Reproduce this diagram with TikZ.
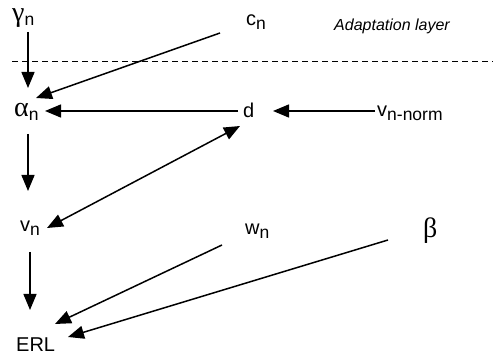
\documentclass[tikz,border=0pt]{standalone}
\usepackage{fontspec}
\setmainfont{Liberation Sans}
\newfontfamily\grkfont{Liberation Serif}
\usetikzlibrary{arrows.meta}
\newcommand\mysub[1]{\raisebox{-4pt}{\fontsize{17.5}{19}\selectfont #1}}
\newcommand\mygrk[1]{{\grkfont\fontsize{28}{30}\selectfont #1}}
\tikzset{
  lbl/.style={anchor=base west, inner sep=0pt, font=\fontsize{20}{22}\selectfont},
  arr/.style={line width=1.5pt, -{Triangle[length=16pt,width=13pt]}},
  darr/.style={line width=1.5pt, {Triangle[length=16pt,width=13pt]}-{Triangle[length=16pt,width=13pt]}},
  sep/.style={line width=0.9pt, dash pattern=on 6pt off 4pt}
}
\begin{document}
\begin{tikzpicture}[x=1pt,y=-1pt]
\useasboundingbox (0,0) rectangle (493,358);
\node[lbl] (gamma) at (12,22) {\mygrk{γ}\mysub{n}};
\node[lbl] (cn) at (246,26) {c\mysub{n}};
\node[lbl, font=\fontsize{16}{18}\selectfont\itshape] (adapt) at (334,31) {Adaptation layer};
\node[lbl] (alpha) at (14,117) {\mygrk{α}\mysub{n}};
\node[lbl] (d) at (243,118) {d};
\node[lbl] (vnorm) at (377,117) {v\mysub{n-norm}};
\node[lbl] (vn) at (20,232) {v\mysub{n}};
\node[lbl] (wn) at (245,235) {w\mysub{n}};
\node[lbl] (beta) at (423,238) {\mygrk{β}};
\node[lbl] (erl) at (16,352) {ERL};
\draw[sep] (12,61) -- (493,61);
\draw[arr] ([shift={(16,10)}]gamma.base west) -- ([shift={(14,-29)}]alpha.base west);
\draw[arr] ([shift={(-26,7)}]cn.base west) -- ([shift={(22,-19)}]alpha.base west);
\draw[arr] ([shift={(-5,-7)}]d.base west) -- ([shift={(31,-6)}]alpha.base west);
\draw[arr] ([shift={(-2,-6)}]vnorm.base west) -- ([shift={(30,-7)}]d.base west);
\draw[arr] ([shift={(14,17)}]alpha.base west) -- ([shift={(8,-41)}]vn.base west);
\draw[darr] ([shift={(-3,8)}]d.base west) -- ([shift={(27,-4)}]vn.base west);
\draw[arr] ([shift={(10,20)}]vn.base west) -- ([shift={(14,-42)}]erl.base west);
\draw[arr] ([shift={(-23,10)}]wn.base west) -- ([shift={(39,-28)}]erl.base west);
\draw[arr] ([shift={(-35,2)}]beta.base west) -- ([shift={(52,-15)}]erl.base west);
\end{tikzpicture}
\end{document}
